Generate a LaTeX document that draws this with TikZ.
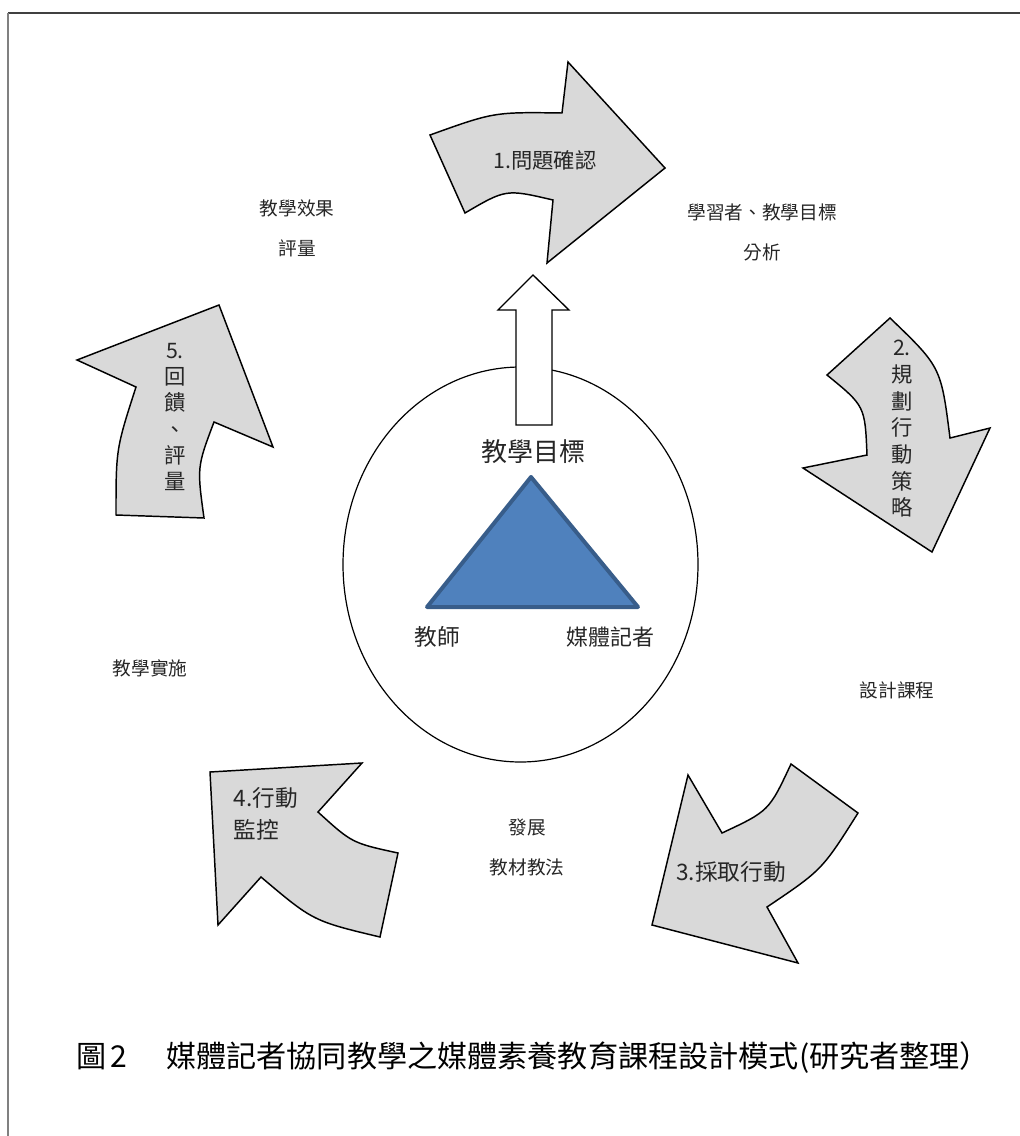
\documentclass[tikz,border=0pt]{standalone}
\usepackage{fontspec}
\setmainfont{Noto Sans CJK TC}
\definecolor{arrowgray}{RGB}{217,217,217}
\definecolor{triblue}{RGB}{79,129,189}
\definecolor{triedge}{RGB}{56,93,138}
\begin{document}
\begin{tikzpicture}[x=0.75pt,y=-0.75pt]
\tikzstyle{stagetext} = [text centered,align=center,text=black!85,font=\fontsize{14}{30}\selectfont]
\tikzstyle{arrowtext} = [text centered,align=center,text=black!85,font=\fontsize{16}{20}\selectfont]
\tikzstyle{curvedarrow} = [draw=black,line width=1.1pt,fill=arrowgray,line join=miter]
\useasboundingbox (0,0) rectangle (1020,1136);
	% frame
	\draw[black!75,line width=1.5pt] (8,13) -- (1020,13);
	\draw[black!50,line width=1.5pt] (8,13) -- (8,1136);
	% circle and the goal arrow
	\draw[line width=0.9pt] (520.5,564.5) ellipse [x radius=177.5,y radius=197.5];
	\draw[line width=1pt,fill=white] (516,425) -- (516,310) -- (498,310) -- (533,275)
		-- (569,310) -- (552,310) -- (552,425) -- cycle;
	\draw[triedge,fill=triblue,line width=3pt,line join=round] (531,477) -- (638,607) -- (427,607) -- cycle;
	\node[arrowtext,font=\fontsize{19.5}{24}\selectfont] (goal) at (533,452) {教學目標};
	\node[arrowtext,font=\fontsize{17}{20}\selectfont] (teacher) at (437,637) {教師};
	\node[arrowtext,font=\fontsize{16.5}{20}\selectfont] (reporter) at (610,637) {媒體記者};
	% 1
	\draw[curvedarrow] (430,135) .. controls (494,112) .. (562,113) -- (568,62) -- (665,168)
		-- (547,263) -- (553,200) .. controls (506,189) .. (465,213) -- cycle;
	\node[arrowtext] (step1) at (545,160) {1.問題確認};
	% 2
	\draw[curvedarrow] (827,375) -- (890,318) .. controls (941,367) .. (950,438) -- (990,428)
		-- (932,552) -- (803,468) -- (867,455) .. controls (865,406) .. (827,375) -- cycle;
	\node[arrowtext] (step2) at (902,429) {2.\\規\\劃\\行\\動\\策\\略};
	% 3
	\draw[curvedarrow] (791,764) -- (858,813) .. controls (822,870) .. (767,907) -- (798,963)
		-- (652,925) -- (688,775) -- (722,833) .. controls (769,811) .. (791,764) -- cycle;
	\node[arrowtext,font=\fontsize{17}{20}\selectfont] (step3) at (731,872) {3.採取行動};
	% 4
	\draw[curvedarrow] (210,772) -- (362,763) -- (318,812) .. controls (352,843) .. (398,853)
		-- (380,937) .. controls (313,921) .. (261,877) -- (218,925) -- cycle;
	\node[arrowtext,anchor=west,align=left,font=\fontsize{17}{24}\selectfont] (step4) at (229,814) {4.行動\\監控};
	% 5
	\draw[curvedarrow] (77,360) -- (219,305) -- (273,447) -- (214,422) .. controls (197,467) .. (204,518)
		-- (116,515) .. controls (116,449) .. (136,387) -- cycle;
	\node[arrowtext,font=\fontsize{16}{19.6}\selectfont] (step5) at (175,417) {5.\\回\\饋\\、\\評\\量};
	% stages
	\node[stagetext] (effect) at (297,228) {教學效果\\評量};
	\node[stagetext] (analysis) at (762,232) {學習者、教學目標\\分析};
	\node[stagetext] (design) at (897,690) {設計課程};
	\node[stagetext] (develop) at (527,847) {發展\\教材教法};
	\node[stagetext] (implement) at (150,668) {教學實施};
	% caption
	\node[anchor=west,font=\fontsize{22.6}{28}\selectfont] (capt) at (72,1058) {圖\kern3pt 2\hspace{29pt}媒體記者協同教學之媒體素養教育課程設計模式(研究者整理）};
\end{tikzpicture}
\end{document}
